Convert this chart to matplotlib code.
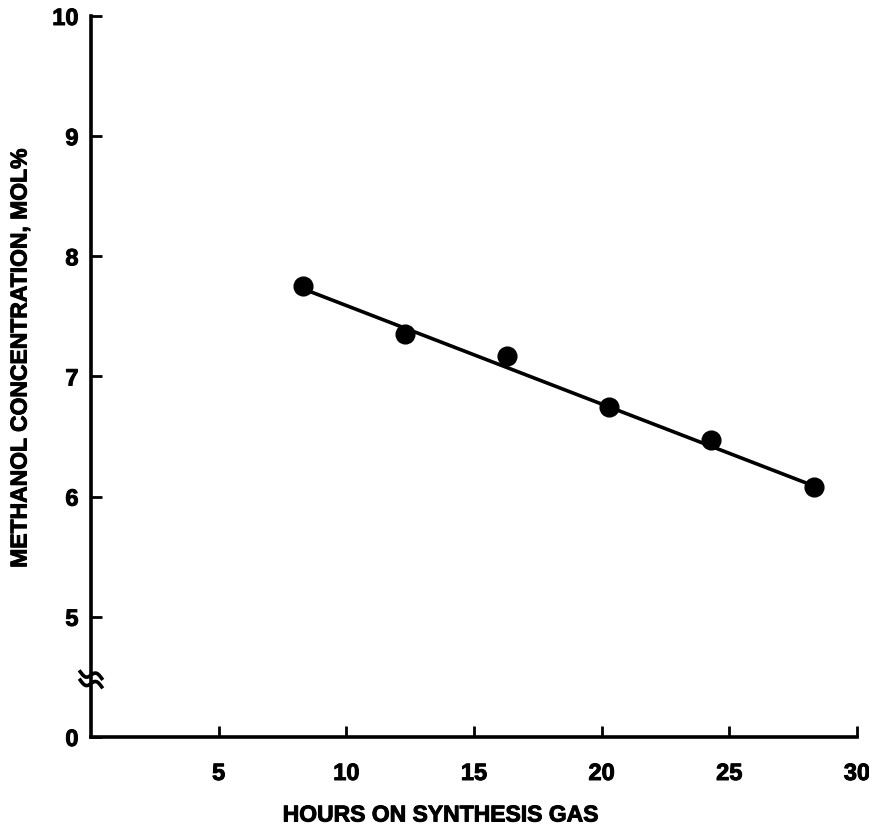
import matplotlib.pyplot as plt
import matplotlib.patheffects as pe
import numpy as np

plt.rcParams['font.family'] = ['Liberation Sans', 'DejaVu Sans']
plt.rcParams['font.weight'] = 'bold'
plt.rcParams['xtick.direction'] = 'in'
plt.rcParams['ytick.direction'] = 'in'

# data
hours = [8.3, 12.3, 16.3, 20.3, 24.3, 28.3]
methanol = [7.75, 7.35, 7.17, 6.75, 6.47, 6.08]

# fitted line end points
fit_x = [8.3, 28.3]
fit_y = [7.73, 6.09]

x_ticks = [5, 10, 15, 20, 25, 30]
y_ticks = [0, 5, 6, 7, 8, 9, 10]


def ypos(v):
    # broken axis: 0 sits one unit below 5
    v = np.asarray(v, dtype=float)
    return np.where(v >= 5, v, 4 + v / 5.0)


heavy = [pe.withStroke(linewidth=0.7, foreground='black')]

fig = plt.figure(figsize=(869 / 100, 833 / 100), dpi=100)
ax = fig.add_axes([91 / 869, 96 / 833, 766 / 869, 721 / 833])

ax.plot(fit_x, ypos(fit_y), color='black', lw=2.6, zorder=2)
ax.plot(hours, ypos(methanol), 'o', color='black', ms=13.5, zorder=3)

ax.set_xlim(0, 30)
ax.set_ylim(4, 10)

ax.spines['top'].set_visible(False)
ax.spines['right'].set_visible(False)
ax.spines['left'].set_linewidth(2.6)
ax.spines['bottom'].set_linewidth(2.6)

ax.set_xticks(x_ticks)
ax.set_xticklabels([str(t) for t in x_ticks])
ax.set_yticks(ypos(y_ticks))
ax.set_yticklabels([str(t) for t in y_ticks])
ax.tick_params(axis='x', direction='in', length=8, width=2, labelsize=17, pad=18)
ax.tick_params(axis='y', direction='in', length=8, width=2, labelsize=17, pad=9)
for lab in ax.get_xticklabels() + ax.get_yticklabels():
    lab.set_path_effects(heavy)

# axis break mark
for dy in (-0.035, 0.035):
    bx = np.linspace(-0.014, 0.014, 20)
    by = 4.48 + dy + 0.03 * np.sin(bx / 0.014 * np.pi) - bx * 2
    ax.plot(bx, by, color='black', lw=2.6, transform=ax.get_yaxis_transform(),
            clip_on=False, zorder=4)

fig.text(440 / 869, 1 - 815 / 833, 'HOURS ON SYNTHESIS GAS', ha='center',
         va='center', fontsize=16.5, fontweight='bold', path_effects=heavy)
fig.text(20 / 869, 1 - 359 / 833, 'METHANOL CONCENTRATION, MOL%', ha='center',
         va='center', rotation=90, fontsize=16.5, fontweight='bold',
         path_effects=heavy)

fig.savefig('out.png', dpi=100)
